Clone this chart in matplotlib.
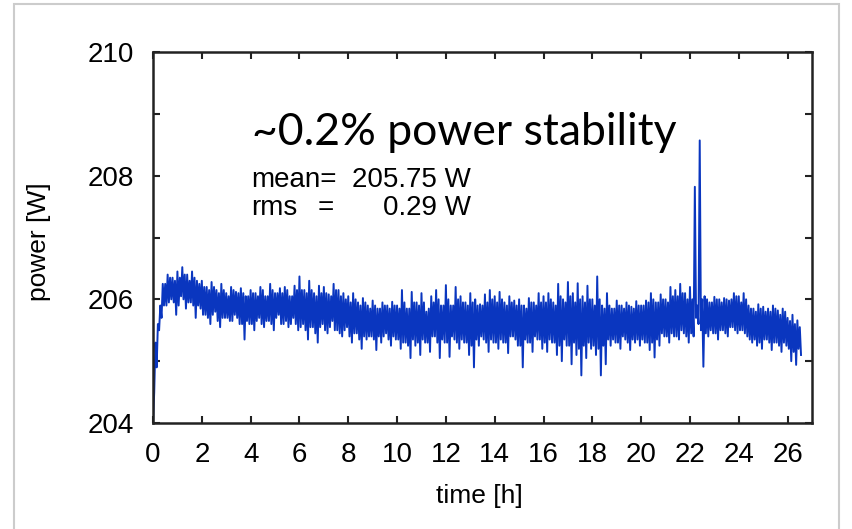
import numpy as np
import matplotlib.pyplot as plt
from matplotlib.patches import Rectangle

# readings every 0.05 h, grouped per 0.2 h block:
# peak-high, core-low, core-high, trough-low
power_hi = [
    204.0, 205.6, 206.25, 206.4, 206.35, 206.45, 206.52, 206.4, 206.45, 206.3,
    206.3, 206.2, 206.28, 206.15, 206.25, 206.1, 206.2, 206.12, 206.18, 206.05,
    206.15, 206.1, 206.2, 206.05, 206.25, 206.1, 206.18, 206.2, 206.05, 206.22,
    206.37, 206.15, 206.3, 206.1, 206.22, 206.2, 206.08, 206.25, 206.15, 206.1,
    206.05, 206.1, 205.95, 206.02, 205.9, 205.98, 205.85, 205.95, 205.9, 205.96,
    205.9, 206.15, 205.85, 206.12, 205.95, 206.1, 205.8, 206.05, 206.15, 205.9,
    206.23, 205.9, 206.2, 206.05, 205.95, 206.1, 206.0, 205.92, 206.08, 206.15,
    206.05, 206.12, 205.95, 206.05, 205.98, 206.0, 205.9, 206.02, 205.95, 206.1,
    206.05, 206.1, 205.95, 206.25, 206.0, 206.28, 206.1, 206.26, 206.05, 206.22,
    206.0, 206.37, 205.9, 206.1, 205.85, 205.98, 205.9, 205.95, 205.88, 205.97,
    205.9, 205.98, 206.1, 205.95, 206.08, 206.0, 206.2, 206.15, 206.25, 206.1,
    206.2, 207.82, 208.57, 206.05, 205.95, 206.04, 206.0, 206.02, 205.98, 206.1,
    206.05, 206.1, 205.9, 205.85, 205.92, 205.88, 205.85, 205.9, 205.82, 205.85,
    205.7, 205.75, 205.66,
]
power_core_lo = [
    204.5, 205.5, 205.9, 205.95, 205.95, 205.9, 206.0, 205.95, 205.9, 205.9,
    205.75, 205.7, 205.75, 205.65, 205.7, 205.7, 205.65, 205.7, 205.6, 205.65,
    205.6, 205.65, 205.6, 205.65, 205.6, 205.7, 205.6, 205.65, 205.6, 205.6,
    205.55, 205.5, 205.55, 205.45, 205.55, 205.5, 205.55, 205.5, 205.45, 205.5,
    205.4, 205.45, 205.35, 205.4, 205.4, 205.35, 205.4, 205.4, 205.35, 205.4,
    205.35, 205.3, 205.25, 205.35, 205.3, 205.35, 205.3, 205.4, 205.3, 205.35,
    205.3, 205.4, 205.3, 205.35, 205.3, 205.25, 205.35, 205.4, 205.3, 205.35,
    205.3, 205.35, 205.3, 205.4, 205.35, 205.25, 205.35, 205.3, 205.4, 205.35,
    205.3, 205.35, 205.3, 205.25, 205.35, 205.25, 205.3, 205.2, 205.25, 205.3,
    205.25, 205.2, 205.25, 205.35, 205.35, 205.3, 205.4, 205.3, 205.35, 205.35,
    205.35, 205.3, 205.3, 205.35, 205.45, 205.4, 205.45, 205.4, 205.5, 205.4,
    205.45, 205.7, 205.5, 205.45, 205.5, 205.45, 205.5, 205.45, 205.55, 205.5,
    205.5, 205.45, 205.35, 205.35, 205.3, 205.35, 205.3, 205.3, 205.25, 205.3,
    205.2, 205.15, 205.2,
]
power_core_hi = [
    205.3, 205.9, 206.25, 206.35, 206.3, 206.35, 206.4, 206.3, 206.35, 206.25,
    206.2, 206.15, 206.2, 206.1, 206.15, 206.05, 206.15, 206.1, 206.1, 206.05,
    206.1, 206.05, 206.15, 206.05, 206.15, 206.1, 206.1, 206.15, 206.05, 206.15,
    206.15, 206.1, 206.15, 206.05, 206.1, 206.1, 206.05, 206.15, 206.05, 206.0,
    205.95, 206.0, 205.9, 205.95, 205.85, 205.9, 205.85, 205.9, 205.85, 205.9,
    205.85, 205.95, 205.85, 205.95, 205.9, 205.95, 205.85, 205.95, 206.0, 205.9,
    206.0, 205.9, 206.0, 205.95, 205.9, 205.95, 205.9, 205.9, 205.95, 206.0,
    205.95, 206.0, 205.9, 205.95, 205.9, 205.9, 205.85, 205.95, 205.9, 205.95,
    205.95, 206.0, 205.9, 206.05, 205.95, 206.05, 205.95, 206.0, 205.95, 206.0,
    205.9, 206.0, 205.85, 205.9, 205.85, 205.9, 205.85, 205.9, 205.85, 205.9,
    205.9, 205.95, 206.0, 205.95, 206.0, 205.95, 206.05, 206.05, 206.1, 206.0,
    206.0, 205.9, 206.0, 206.0, 205.95, 206.0, 205.95, 206.0, 206.0, 206.05,
    205.95, 206.0, 205.85, 205.8, 205.85, 205.8, 205.8, 205.85, 205.75, 205.8,
    205.65, 205.6, 205.55,
]
power_lo = [
    204.9, 205.7, 205.9, 206.0, 205.75, 206.05, 205.85, 205.95, 205.7, 205.85,
    205.75, 205.6, 205.8, 205.55, 205.7, 205.65, 205.75, 205.6, 205.35, 205.6,
    205.5, 205.7, 205.55, 205.65, 205.5, 205.75, 205.6, 205.55, 205.7, 205.5,
    205.6, 205.35, 205.55, 205.3, 205.6, 205.45, 205.65, 205.5, 205.4, 205.55,
    205.3, 205.45, 205.2, 205.35, 205.4, 205.18, 205.3, 205.45, 205.25, 205.35,
    205.2, 205.3, 205.05, 205.25, 205.1, 205.3, 205.15, 205.4, 205.05, 205.3,
    205.07, 205.35, 205.2, 205.3, 205.1, 204.9, 205.25, 205.35, 205.15, 205.3,
    205.2, 205.3, 205.13, 205.4, 205.25, 204.9, 205.3, 205.15, 205.35, 205.2,
    205.15, 205.3, 205.1, 205.0, 205.25, 204.95, 205.1, 204.77, 205.05, 205.2,
    205.1, 204.77, 204.95, 205.25, 205.3, 205.2, 205.35, 205.18, 205.3, 205.25,
    205.3, 205.18, 205.06, 205.25, 205.4, 205.3, 205.4, 205.35, 205.45, 205.3,
    205.4, 205.6, 204.91, 205.4, 205.45, 205.35, 205.5, 205.4, 205.55, 205.45,
    205.5, 205.4, 205.3, 205.25, 205.2, 205.35, 205.18, 205.3, 205.15, 205.25,
    205.0, 204.94, 205.1,
]
step_h = 0.05

x_ticks = list(range(0, 27, 2))
y_ticks = [204, 206, 208, 210]
y_minor = [205, 207, 209]
title_text = "~0.2% power stability"
mean_label, mean_value = "mean=", "205.75 W"
rms_label, rms_eq, rms_value = "rms", "=", "0.29 W"

power = np.empty(4 * len(power_hi))
power[0::4] = power_hi
power[1::4] = power_core_lo
power[2::4] = power_core_hi
power[3::4] = power_lo
time = np.arange(len(power)) * step_h

W, H = 852, 529
fig = plt.figure(figsize=(W / 100, H / 100), dpi=100)
ax = fig.add_axes([153 / W, 1 - 423 / H, (812 - 153) / W, (423 - 52) / H])

ax.plot(time, power, color="#0a36bf", linewidth=1.4)
ax.set_xlim(0, 27)
ax.set_ylim(204, 210)
ax.set_xticks(x_ticks)
ax.set_yticks(y_ticks)
ax.set_yticks(y_minor, minor=True)

label_font = {"family": "Liberation Sans", "size": 19}
for lab in ax.get_xticklabels() + ax.get_yticklabels():
    lab.set_fontfamily("Liberation Sans")
    lab.set_fontsize(20)
ax.tick_params(which="both", direction="in", length=5, width=1.5,
               top=True, right=True, color="#222222")
ax.tick_params(axis="x", pad=14)
ax.tick_params(axis="y", pad=14)
for sp in ax.spines.values():
    sp.set_linewidth(1.8)
    sp.set_color("#222222")

ax.set_xlabel("time [h]", fontdict=label_font)
ax.set_ylabel("power [W]", fontdict=label_font)
ax.xaxis.set_label_coords(0.496, -0.165)
ax.yaxis.set_label_coords(-0.155, 0.49)

# annotations placed in figure pixels
def fx(px):
    return px / W

def fy(py):
    return 1 - py / H

fig.text(fx(252), fy(145), title_text, fontfamily="Lato", fontsize=32,
         va="baseline", color="black")
fig.text(fx(251), fy(187), mean_label, fontfamily="Liberation Sans",
         fontsize=20, va="baseline")
fig.text(fx(471), fy(187), mean_value, fontfamily="Liberation Sans",
         fontsize=20, va="baseline", ha="right")
fig.text(fx(251), fy(215), rms_label, fontfamily="Liberation Sans",
         fontsize=20, va="baseline")
fig.text(fx(318), fy(215), rms_eq, fontfamily="Liberation Sans",
         fontsize=20, va="baseline")
fig.text(fx(471), fy(215), rms_value, fontfamily="Liberation Sans",
         fontsize=20, va="baseline", ha="right")

# light frame around the slide image
fig.add_artist(Rectangle((fx(14), -0.02), fx(839) - fx(14), fy(4) + 0.02,
                         transform=fig.transFigure, fill=False,
                         edgecolor="#cccccc", linewidth=1.5))

fig.savefig("out.png", dpi=100)
